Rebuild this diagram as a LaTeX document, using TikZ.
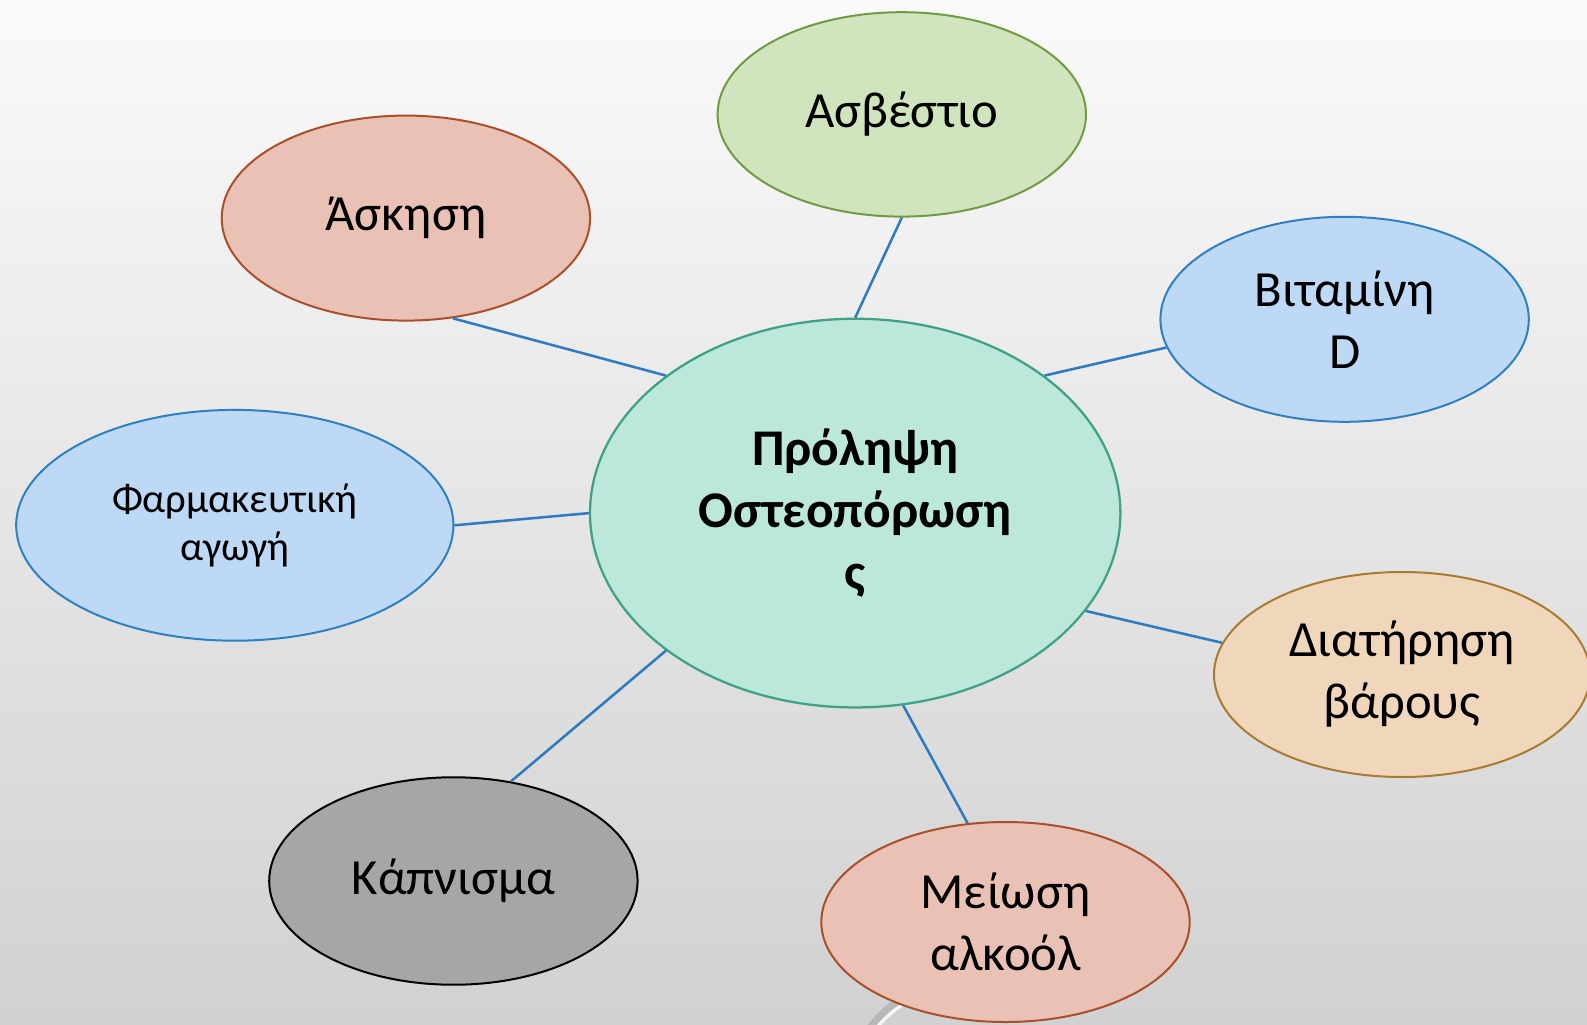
\documentclass[tikz,border=0pt]{standalone}
\usepackage{fontspec}
\setmainfont{Carlito}
\usetikzlibrary{shapes.geometric}
\definecolor{cfill}{HTML}{BBE8DB}\definecolor{cdraw}{HTML}{3FA186}
\definecolor{gfill}{HTML}{D0E4BE}\definecolor{gdraw}{HTML}{709B45}
\definecolor{rfill}{HTML}{E9C1B5}\definecolor{rdraw}{HTML}{A9502A}
\definecolor{bfill}{HTML}{BDD9F6}\definecolor{bdraw}{HTML}{2E80C0}
\definecolor{ofill}{HTML}{F0D7BC}\definecolor{odraw}{HTML}{A87B30}
\definecolor{kfill}{HTML}{A6A6A6}
\definecolor{linkc}{HTML}{2E7BC0}
\tikzset{
  bubble/.style={ellipse, inner sep=0pt, line width=1.5pt, align=center,
    font=\fontsize{38}{46.5}\selectfont},
  small/.style={minimum width=276.3pt, minimum height=153.75pt},
  link/.style={draw=linkc, line width=1.9pt},
}
\begin{document}
\begin{tikzpicture}[x=0.75pt,y=-0.75pt]
\useasboundingbox (0,0) rectangle (1587,1024);
\shade[top color=white!98!black, bottom color=white!82!black] (0,0) rectangle (1587,1024);
% decorative arc at the bottom
\draw[white!72!black, line width=6pt] (960,1095) ++(200:112) arc[start angle=200, end angle=262, radius=112];
\draw[white!97!black, line width=2.5pt] (960,1095) ++(200:107) arc[start angle=200, end angle=262, radius=107];

\node[bubble, fill=cfill, draw=cdraw, line width=1.7pt, minimum width=397.8pt, minimum height=291.5pt,
  font=\fontsize{38.6}{46.5}\selectfont\bfseries] (c) at (855.2,513.1) {Πρόληψη\\Οστεοπόρωση\\ς};
\node[bubble, small, fill=gfill, draw=gdraw, minimum height=153.3pt] (a) at (901.8,114.4) {Ασβέστιο};
\node[bubble, small, fill=rfill, draw=rdraw] (s) at (405.9,218.1) {Άσκηση};
\node[bubble, small, fill=bfill, draw=bdraw] (v) at (1344.6,319.3) {Βιταμίνη\\D};
\node[bubble, fill=bfill, draw=bdraw, minimum width=327.9pt, minimum height=173.1pt,
  font=\fontsize{30.5}{36.5}\selectfont] (f) at (234.8,525.3) {Φαρμακευτική\\αγωγή};
\node[bubble, fill=ofill, draw=odraw, minimum width=282pt, minimum height=153.75pt] (d) at (1402,674.5) {Διατήρηση\\βάρους};
\node[bubble, small, fill=kfill, draw=black, minimum height=155.6pt] (k) at (453.4,881) {Κάπνισμα};
\node[bubble, small, fill=rfill, draw=rdraw, minimum height=150pt] (m) at (1005.5,922) {Μείωση\\αλκοόλ};

\draw[link] (c.90) -- (a.-90);
\draw[link] (c.144.2) -- (s.-65.2);
\draw[link] (c.36.4) -- (v.189.8);
\draw[link] (c.180) -- (f.0);
\draw[link] (c.-23.2) -- (d.170);
\draw[link] (c.216.2) -- (k.60.1);
\draw[link] (c.-76.6) -- (m.111);
\end{tikzpicture}
\end{document}
